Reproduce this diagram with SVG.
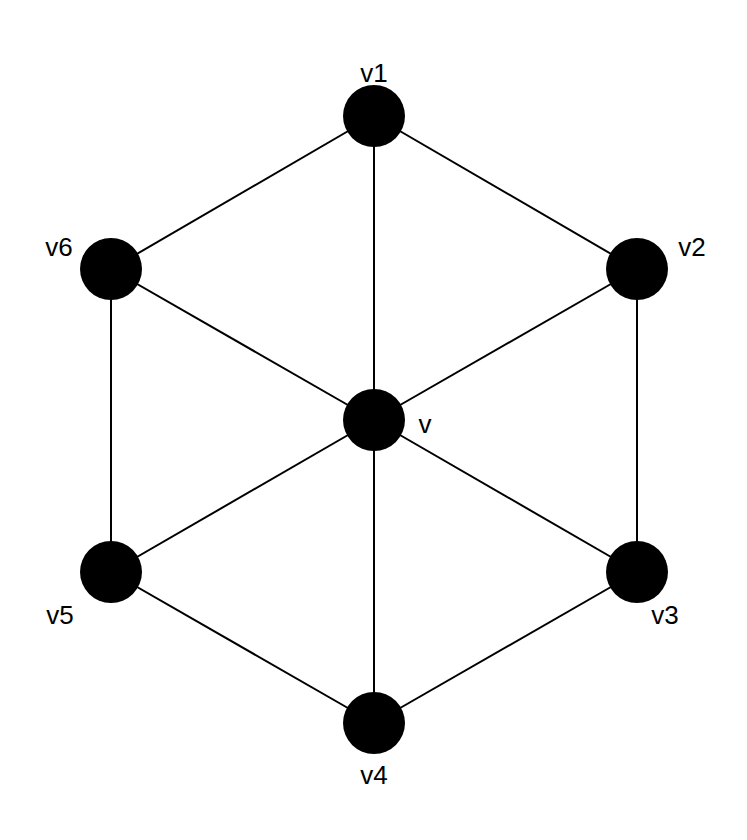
<svg xmlns="http://www.w3.org/2000/svg" width="747" height="840" viewBox="0 0 747 840">
<style>
.e{stroke:#000;stroke-width:2;fill:none}
.n{fill:#000}
.t{font-family:"Liberation Sans",Arial,sans-serif;font-size:26px;fill:#000;text-anchor:middle}
</style>
<rect width="747" height="840" fill="#fff"/>
<g id="edges" class="e">
<line x1="374" y1="116" x2="637" y2="269"/>
<line x1="637" y1="269" x2="637" y2="572"/>
<line x1="637" y1="572" x2="374" y2="723"/>
<line x1="374" y1="723" x2="111" y2="572"/>
<line x1="111" y1="572" x2="111" y2="269"/>
<line x1="111" y1="269" x2="374" y2="116"/>
<line x1="374" y1="420" x2="374" y2="116"/>
<line x1="374" y1="420" x2="637" y2="269"/>
<line x1="374" y1="420" x2="637" y2="572"/>
<line x1="374" y1="420" x2="374" y2="723"/>
<line x1="374" y1="420" x2="111" y2="572"/>
<line x1="374" y1="420" x2="111" y2="269"/>
</g>
<g id="v1"><circle class="n" cx="374" cy="116" r="31"/><text class="t" x="374" y="82">v1</text></g>
<g id="v2"><circle class="n" cx="637" cy="269" r="31"/><text class="t" x="692" y="256">v2</text></g>
<g id="v3"><circle class="n" cx="637" cy="572" r="31"/><text class="t" x="665" y="624">v3</text></g>
<g id="v4"><circle class="n" cx="374" cy="723" r="31"/><text class="t" x="374" y="784">v4</text></g>
<g id="v5"><circle class="n" cx="111" cy="572" r="31"/><text class="t" x="60" y="624">v5</text></g>
<g id="v6"><circle class="n" cx="111" cy="269" r="31"/><text class="t" x="59" y="256">v6</text></g>
<g id="v"><circle class="n" cx="374" cy="420" r="31"/><text class="t" x="425" y="433">v</text></g>
</svg>
